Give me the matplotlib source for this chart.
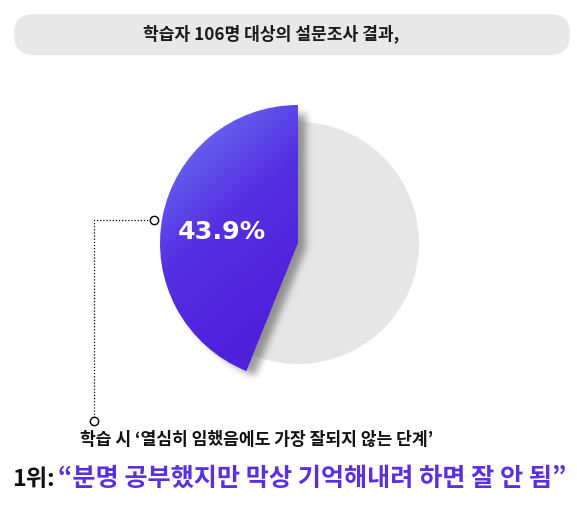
import numpy as np
import matplotlib.pyplot as plt
from matplotlib.patches import FancyBboxPatch
from matplotlib.colors import to_rgb

plt.rcParams['font.family'] = ['Noto Sans CJK KR', 'DejaVu Sans']

# data
labels = ['잘 안 됨', '기타']
shares = [43.9, 56.1]
title = '학습자 106명 대상의 설문조사 결과,'
question = '학습 시 ‘열심히 임했음에도 가장 잘되지 않는 단계’'
rank_label = '1위:'
answer = '“분명 공부했지만 막상 기억해내려 하면 잘 안 됨”'

W, H = 577, 521
fig = plt.figure(figsize=(W / 100, H / 100), dpi=100)
ax = fig.add_axes([0, 0, 1, 1])


def fit(txt, width):
    # shrink/grow a text so it spans the given pixel width
    fig.canvas.draw()
    w = txt.get_window_extent().width
    txt.set_fontsize(txt.get_fontsize() * width / w)
    return txt


cx, cy = 298, H - 243
r_big, r_small = 138, 121

# pie
wedges, _ = ax.pie(shares, startangle=90, counterclock=True, center=(cx, cy),
                   radius=r_small, colors=['#5a3be6', '#e6e6e6'],
                   wedgeprops=dict(linewidth=0), frame=True)
ax.set_xlim(0, W)
ax.set_ylim(0, H)
ax.set_aspect('equal')
ax.axis('off')
purple, gray = wedges
purple.set_radius(r_big)
gray.set_zorder(1)
purple.set_zorder(4)

# banner
banner = FancyBboxPatch((34, H - 55 + 20), 516, 1, boxstyle='round,pad=20',
                        fc='#e8e8e8', ec='none')
ax.add_patch(banner)
t0 = ax.text(271, H - 34, title, ha='center', va='center', fontsize=12.5,
             fontweight='bold', color='#1a1a1a')
fit(t0, 257)

# soft shadow of the purple slice
th1, th2 = purple.theta1, purple.theta2
yy, xx = np.mgrid[0:H, 0:W]
sx, sy = xx - (cx + 7), (H - yy) - (cy - 6)
ang = np.degrees(np.arctan2(sy, sx)) % 360
mask = ((np.hypot(sx, sy) <= r_big - 2) & (ang >= th1) & (ang <= th2)).astype(float)
blur = mask
k = 7
for _ in range(3):
    blur = np.apply_along_axis(lambda m: np.convolve(m, np.ones(k) / k, mode='same'), 0, blur)
    blur = np.apply_along_axis(lambda m: np.convolve(m, np.ones(k) / k, mode='same'), 1, blur)
shadow = np.zeros((H, W, 4))
shadow[..., :3] = 0.3
shadow[..., 3] = blur * 0.55
ax.imshow(shadow, extent=(0, W, 0, H), origin='upper', zorder=3, interpolation='bilinear')

# gradient fill of the purple slice
c0 = np.array(to_rgb('#6f82f5'))
c1 = np.array(to_rgb('#5530e2'))
c2 = np.array(to_rgb('#4f20dc'))
gx, gy = np.meshgrid(np.linspace(0, 1, 200), np.linspace(0, 1, 200))
t = np.clip(0.4 * gx + 0.9 * gy, 0, 1)[..., None]
grad = np.where(t < 0.55, c0 * (1 - t / 0.55) + c1 * (t / 0.55),
                c1 * (1 - (t - 0.55) / 0.45) + c2 * ((t - 0.55) / 0.45))
im = ax.imshow(grad, extent=(cx - r_big, cx, cy - r_big, cy + r_big), origin='upper',
               zorder=5, interpolation='bilinear')
im.set_clip_path(purple)
purple.set_alpha(0)
ax.set_xlim(0, W)
ax.set_ylim(0, H)

tp = ax.text(222, H - 232, f'{shares[0]}%', ha='center', va='center', fontsize=19,
             fontweight='heavy', color='white', family='DejaVu Sans', zorder=6)
fit(tp, 88)

# annotation leader
ax.plot([154, 94, 94], [H - 220, H - 220, H - 421], ls=(0, (1, 1.5)), lw=0.9,
        color='black', zorder=6)
ax.plot([154, 94], [H - 220, H - 421], 'o', ms=6, mfc='white', mec='black', mew=1, zorder=7)

tq = ax.text(257, H - 440, question, ha='center', va='center', fontsize=12.5,
             fontweight='bold', color='#111111')
fit(tq, 355)
t1 = ax.text(12, H - 479, rank_label, ha='left', va='center', fontsize=16,
             fontweight='bold', color='#111111')
fit(t1, 43)
t2 = ax.text(58, H - 478, answer, ha='left', va='center', fontsize=17,
             fontweight='bold', color='#5b2fe0')
fit(t2, 510)

fig.savefig('out.png', dpi=100)
